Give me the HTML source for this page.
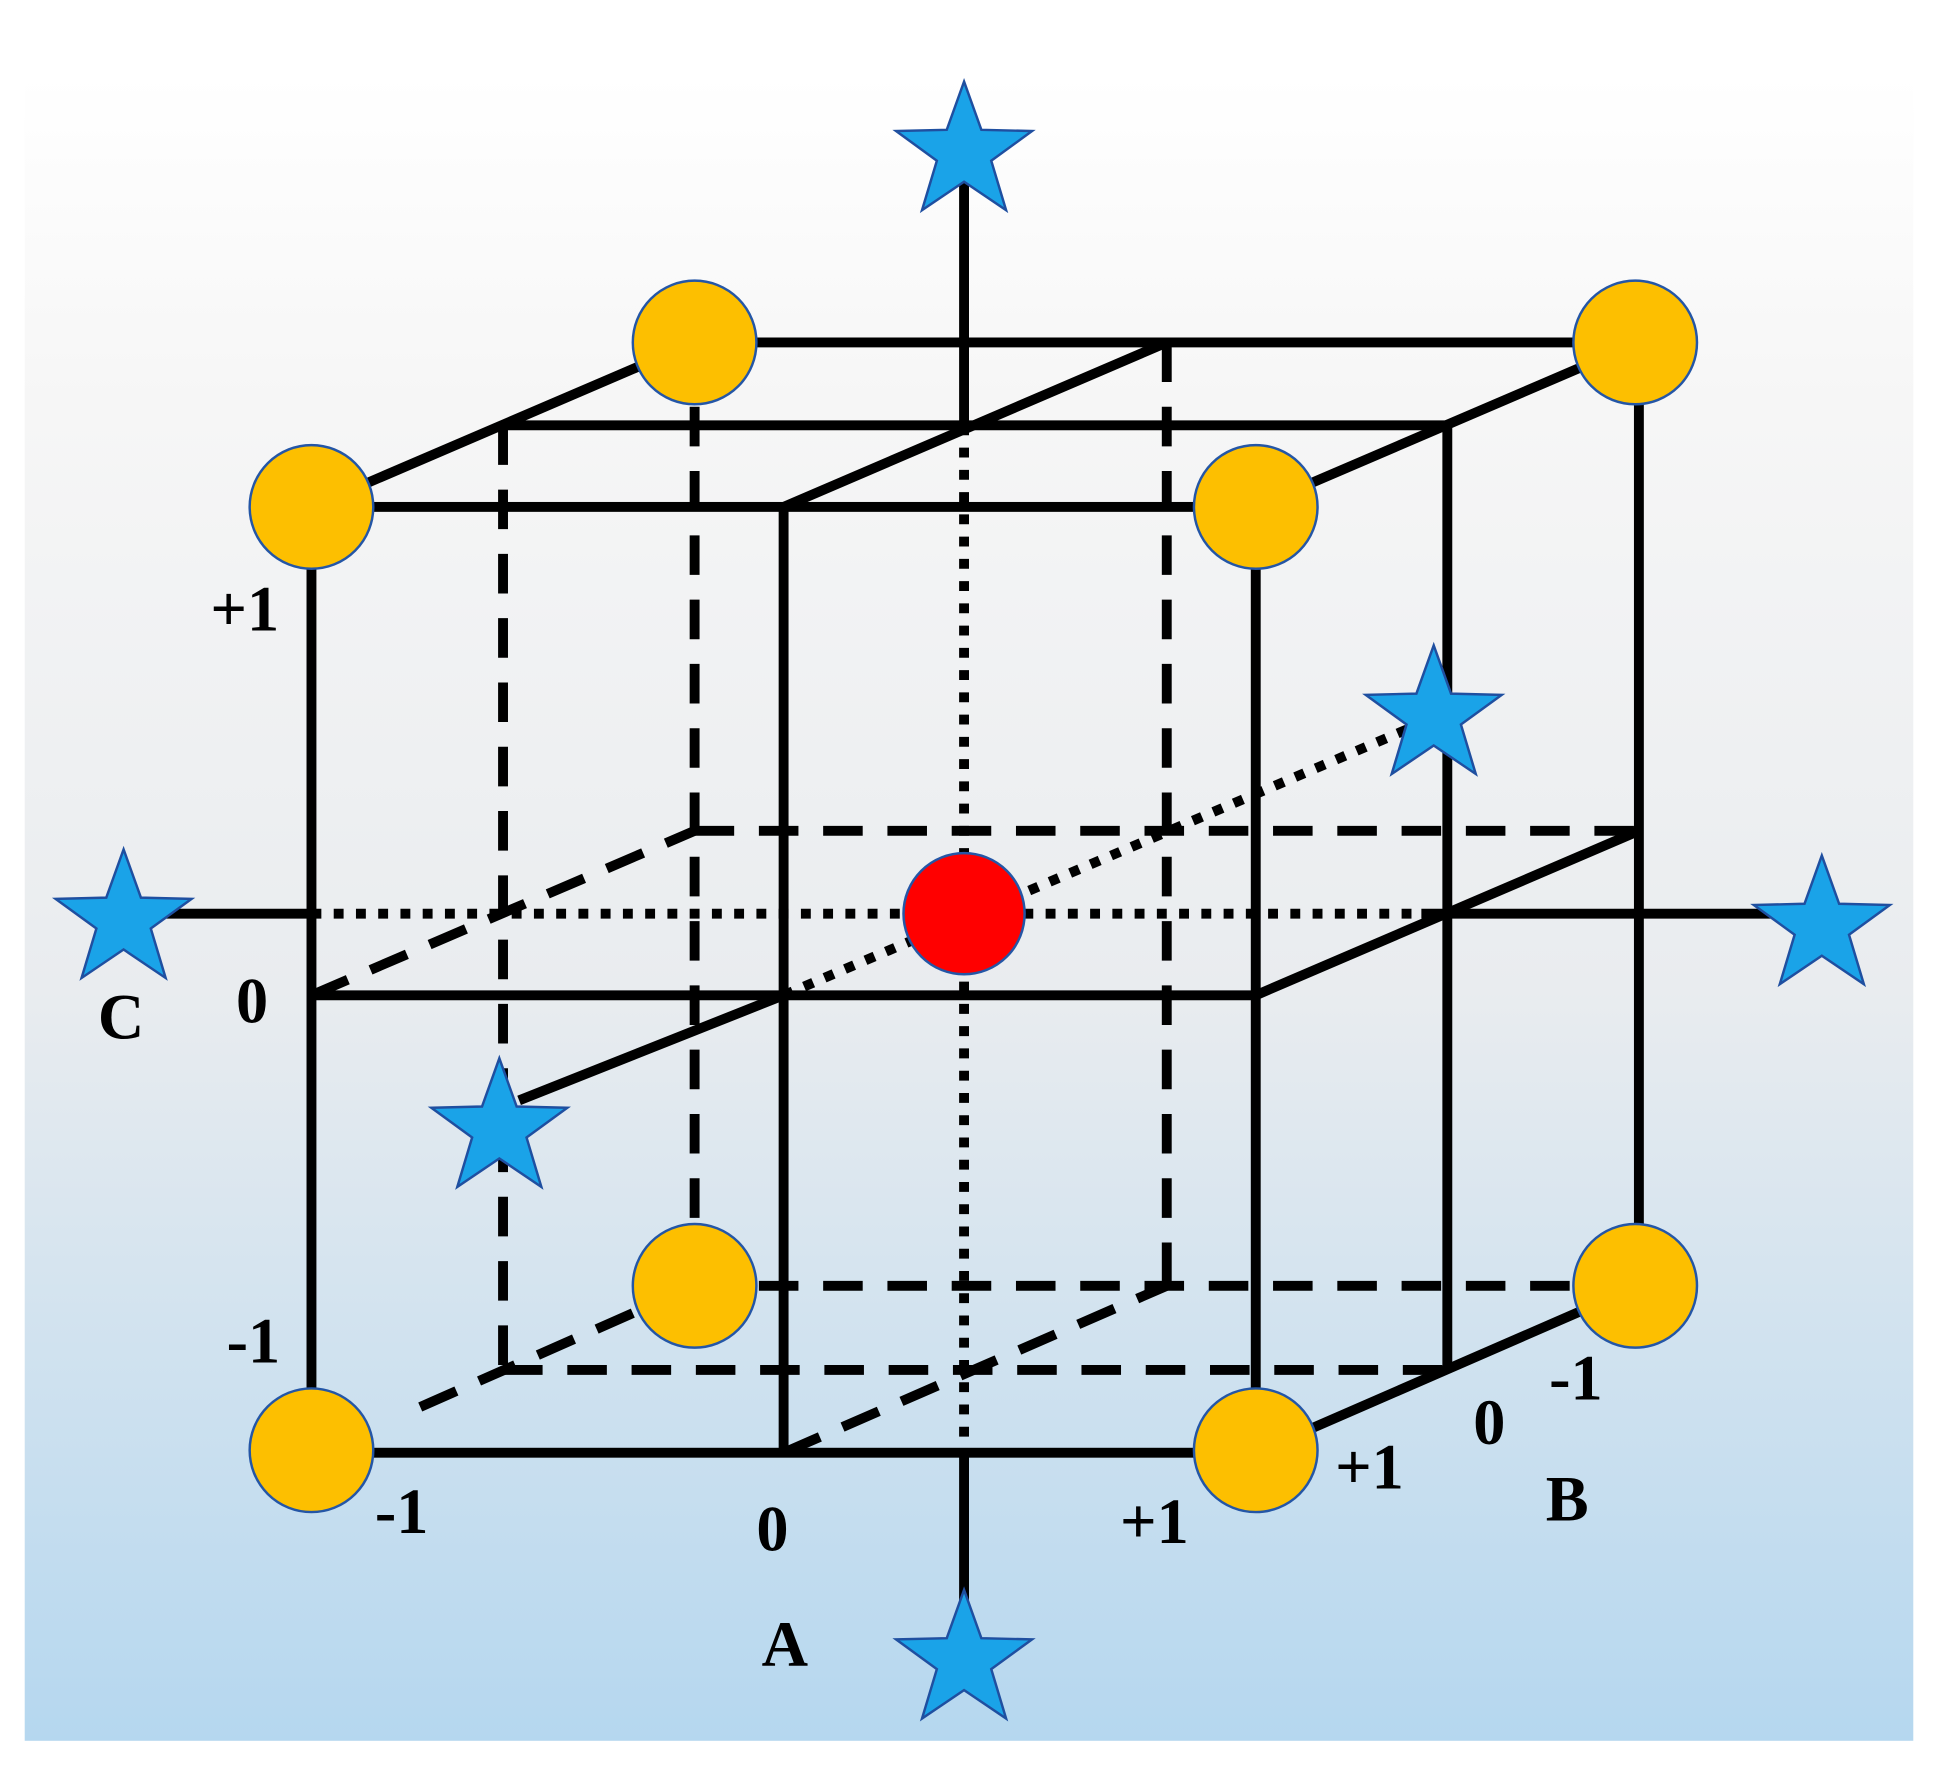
<!DOCTYPE html>
<html><head><style>html,body{margin:0;padding:0;background:#fff}svg{display:block}</style></head>
<body>
<svg width="1938" height="1768" viewBox="0 0 1568 1430" preserveAspectRatio="none" xmlns="http://www.w3.org/2000/svg">
<defs>
<linearGradient id="bg" x1="0" y1="0" x2="0" y2="1">
<stop offset="0" stop-color="#ffffff"/>
<stop offset="0.2" stop-color="#f6f6f6"/>
<stop offset="0.55" stop-color="#e9ecef"/>
<stop offset="1" stop-color="#b5d7ef"/>
</linearGradient>
<polygon id="star" points="0,-58 14,-19 55,-18 22,6 34,46 0,23 -34,46 -22,6 -55,-18 -14,-19" fill="#1aa3e8" stroke="#1f4fa0" stroke-width="2"/>
</defs>
<rect x="20" y="60" width="1528" height="1348" fill="url(#bg)"/>
<g stroke="#000" stroke-width="8" fill="none">
<g stroke-dasharray="32,20">
<line x1="562" y1="277" x2="562" y2="1040"/>
<line x1="944" y1="277" x2="944" y2="1040"/>
<line x1="562" y1="1040" x2="1326" y2="1040"/>
<line x1="562" y1="672" x2="1326" y2="672"/>
<line x1="407" y1="344" x2="407" y2="1108"/>
<line x1="407" y1="1108" x2="1171" y2="1108"/>
<line x1="252" y1="805" x2="562" y2="672"/>
<line x1="340" y1="1138" x2="562" y2="1040"/>
<line x1="634" y1="1175" x2="944" y2="1040"/>
</g>
<g stroke-dasharray="8,10">
<line x1="780" y1="344" x2="780" y2="1175"/>
<line x1="252" y1="739" x2="1150" y2="739"/>
<line x1="634" y1="805" x2="1150" y2="585"/>
</g>
<rect x="252" y="410" width="764" height="765"/>
<line x1="252" y1="805" x2="1016" y2="805"/>
<line x1="634" y1="410" x2="634" y2="1175"/>
<line x1="562" y1="277" x2="1326" y2="277"/>
<line x1="1326" y1="277" x2="1326" y2="1040"/>
<line x1="407" y1="344" x2="1171" y2="344"/>
<line x1="1171" y1="344" x2="1171" y2="1108"/>
<line x1="252" y1="410" x2="562" y2="277"/>
<line x1="634" y1="410" x2="944" y2="277"/>
<line x1="1016" y1="410" x2="1326" y2="277"/>
<line x1="1016" y1="805" x2="1326" y2="672"/>
<line x1="1016" y1="1175" x2="1326" y2="1040"/>
<line x1="420" y1="890" x2="634" y2="805"/>
<line x1="780" y1="130" x2="780" y2="344"/>
<line x1="780" y1="1175" x2="780" y2="1310"/>
<line x1="120" y1="739" x2="252" y2="739"/>
<line x1="1150" y1="739" x2="1450" y2="739"/>
</g>
<g fill="#fdbf00" stroke="#2456a6" stroke-width="2">
<circle cx="252" cy="410" r="50"/><circle cx="1016" cy="410" r="50"/>
<circle cx="562" cy="277" r="50"/><circle cx="1323" cy="277" r="50"/>
<circle cx="252" cy="1173" r="50"/><circle cx="1016" cy="1173" r="50"/>
<circle cx="562" cy="1040" r="50"/><circle cx="1323" cy="1040" r="50"/>
</g>
<circle cx="780" cy="739" r="49" fill="#ff0000" stroke="#2456a6" stroke-width="2"/>
<use href="#star" x="780" y="124"/>
<use href="#star" x="780" y="1344"/>
<use href="#star" x="100" y="745"/>
<use href="#star" x="1474" y="750"/>
<use href="#star" x="1160" y="580"/>
<use href="#star" x="404" y="914"/>
<g font-family="Liberation Serif, serif" font-weight="bold" font-size="52" fill="#000" text-anchor="middle">
<text x="198" y="510">+1</text>
<text x="204" y="827">0</text>
<text x="98" y="840">C</text>
<text x="205" y="1102">-1</text>
<text x="325" y="1240">-1</text>
<text x="625" y="1254">0</text>
<text x="934" y="1248">+1</text>
<text x="635" y="1347">A</text>
<text x="1108" y="1204">+1</text>
<text x="1205" y="1168">0</text>
<text x="1275" y="1132">-1</text>
<text x="1268" y="1230">B</text>
</g>
</svg>
</body></html>
